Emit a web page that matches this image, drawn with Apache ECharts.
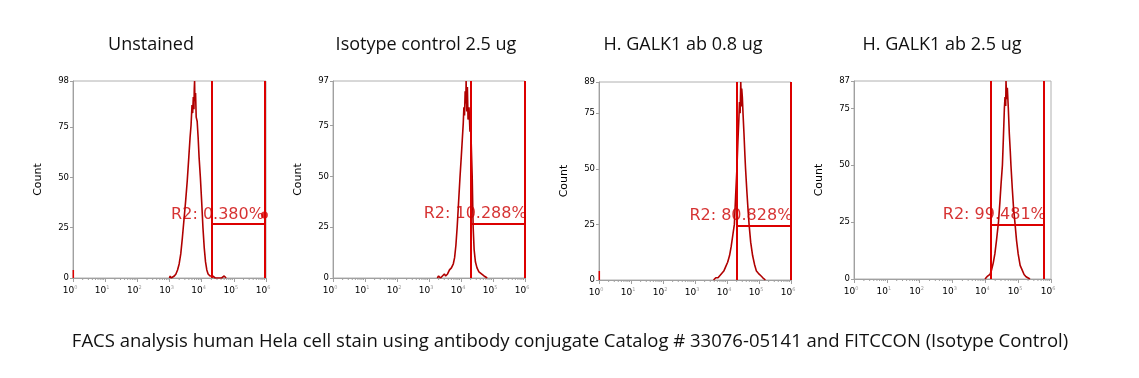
<!DOCTYPE html>
<html>
<head>
<meta charset="utf-8">
<script src="https://cdn.jsdelivr.net/npm/echarts@6/dist/echarts.min.js"></script>
<style>
  html, body { margin: 0; background: #fff; }
  #chart { width: 1139px; height: 378px; }
</style>
</head>
<body>
<div id="chart"></div>
<script>
// Títulos de cada histograma y pie de figura
const panelTitles = ['Unstained', 'Isotype control 2.5 ug', 'H. GALK1 ab 0.8 ug', 'H. GALK1 ab 2.5 ug'];
const caption = 'FACS analysis human Hela cell stain using antibody conjugate Catalog # 33076-05141 and FITCCON (Isotype Control)';

// Eje X: décadas (exponente de 10)
const decades = [0, 1, 2, 3, 4, 5, 6];
// Máximo del eje Y de cada panel
const yMax = [98, 97, 89, 87];

// Región R2 (exponentes de 10) y altura de la barra horizontal
const gateLeft = [4.30, 4.32, 4.32, 4.17];
const gateRight = [5.95, 5.99, 5.98, 5.78];
const gateLevel = [27, 26.7, 24.6, 24];
const gateLabels = ['R2: 0.380%', 'R2: 10.288%', 'R2: 80.828%', 'R2: 99.481%'];
const labelLevel = [31.3, 31.5, 28.8, 28.2];

// Eventos en el canal 0 (barra en 10^0)
const zeroChannel = [4, 0, 4, 0];

// Histogramas: log10 de la intensidad y número de eventos
const hist1Log = [3.00, 3.02, 3.05, 3.15, 3.20, 3.25, 3.30, 3.35, 3.40, 3.45, 3.50, 3.55, 3.60, 3.64, 3.67, 3.70, 3.72, 3.74, 3.76, 3.77, 3.78, 3.79, 3.81, 3.83, 3.86, 3.89, 3.92, 3.96, 4.00, 4.04, 4.08, 4.12, 4.16, 4.20, 4.26, 4.34, 4.42, 4.62, 4.70, 4.76];
const hist1Count = [0, 1, 0, 1, 2, 4, 7, 12, 20, 29, 38, 48, 60, 70, 76, 86, 82, 90, 84, 94, 98, 88, 92, 80, 78, 70, 60, 50, 38, 25, 15, 8, 4, 2, 1, 1, 0, 0, 1, 0];

const hist2Log = [3.26, 3.30, 3.36, 3.42, 3.48, 3.52, 3.58, 3.64, 3.70, 3.76, 3.80, 3.84, 3.88, 3.92, 3.97, 4.01, 4.04, 4.07, 4.09, 4.11, 4.13, 4.15, 4.16, 4.18, 4.20, 4.22, 4.25, 4.28, 4.30, 4.32, 4.35, 4.38, 4.41, 4.45, 4.50, 4.56, 4.64, 4.72, 4.82];
const hist2Count = [0, 1, 0, 1, 2, 1, 2, 4, 5, 7, 10, 16, 25, 36, 50, 60, 68, 76, 84, 80, 92, 86, 97, 82, 94, 78, 84, 72, 76, 66, 50, 25, 14, 8, 5, 3, 2, 1, 0];

const hist3Log = [3.58, 3.65, 3.72, 3.78, 3.84, 3.90, 3.96, 4.02, 4.08, 4.13, 4.18, 4.23, 4.27, 4.31, 4.34, 4.37, 4.39, 4.41, 4.43, 4.45, 4.46, 4.48, 4.50, 4.53, 4.56, 4.58, 4.62, 4.66, 4.69, 4.74, 4.80, 4.86, 4.92, 4.98, 5.05, 5.12, 5.20];
const hist3Count = [0, 1, 1, 2, 3, 4, 6, 8, 11, 15, 20, 25, 38, 50, 62, 72, 80, 75, 89, 78, 86, 82, 75, 66, 56, 50, 40, 31, 25, 17, 11, 7, 4, 3, 2, 1, 0];

const hist4Log = [3.99, 4.05, 4.10, 4.14, 4.19, 4.24, 4.29, 4.34, 4.40, 4.44, 4.48, 4.52, 4.55, 4.58, 4.60, 4.62, 4.63, 4.65, 4.67, 4.70, 4.73, 4.76, 4.78, 4.82, 4.86, 4.90, 4.95, 5.00, 5.06, 5.12, 5.18, 5.24, 5.30, 5.36];
const hist4Count = [0, 1, 1, 2, 4, 7, 11, 17, 25, 33, 42, 50, 62, 75, 80, 76, 87, 79, 84, 75, 64, 56, 50, 40, 31, 25, 17, 11, 6, 4, 2, 1, 1, 0];

const histLog = [hist1Log, hist2Log, hist3Log, hist4Log];
const histCount = [hist1Count, hist2Count, hist3Count, hist4Count];

// Posición de cada gráfico en la página
const boxes = [
    { left: 73, top: 81, width: 193, height: 197 },
    { left: 333, top: 81, width: 192, height: 197 },
    { left: 599, top: 82, width: 192, height: 198 },
    { left: 854, top: 81, width: 197, height: 198 }
];
const titleX = [146, 421, 678, 937];

const histColor = '#b00000';
const gateColor = '#dc0000';
const axisColor = '#a0a0a0';

// Marcas menores logarítmicas (2..9 de cada década)
const minorTicks = [];
for (let d = 0; d < 6; d++) {
    for (let k = 2; k <= 9; k++) minorTicks.push(d + Math.log10(k));
}

const chart = echarts.init(document.getElementById('chart'));

const grids = [], xAxes = [], yAxes = [], series = [], titles = [];

boxes.forEach((b, i) => {
    grids.push(Object.assign({ show: true, borderColor: '#b0b0b0', borderWidth: 1, backgroundColor: 'transparent' }, b));

    xAxes.push({
        type: 'value', gridIndex: i, min: 0, max: 6, interval: 1,
        axisLine: { show: true, lineStyle: { color: axisColor, width: 1 } },
        axisTick: { show: true, length: 4, lineStyle: { color: axisColor } },
        splitLine: { show: false },
        axisLabel: {
            margin: 7,
            formatter: v => '{b|10}{s|' + v + '}{p|}',
            rich: {
                b: { fontFamily: 'DejaVu Sans', fontSize: 9, color: '#000' },
                s: { fontFamily: 'DejaVu Sans', fontSize: 5, color: '#999', verticalAlign: 'top', padding: [0, 0, 7, 0] },
                p: { width: 6 }
            }
        }
    });

    yAxes.push({
        type: 'value', gridIndex: i, min: 0, max: yMax[i], interval: 25,
        name: 'Count', nameLocation: 'middle', nameGap: 29,
        nameTextStyle: { fontFamily: 'DejaVu Sans', fontSize: 11, color: '#000' },
        axisLine: { show: true, lineStyle: { color: axisColor, width: 1 } },
        axisTick: { show: true, length: 3, lineStyle: { color: axisColor } },
        splitLine: { show: false },
        axisLabel: { fontFamily: 'DejaVu Sans', fontSize: 8.5, color: '#000', margin: 4 }
    });

    titles.push({
        text: panelTitles[i], left: titleX[i], top: 31, textAlign: 'center',
        textStyle: { fontFamily: 'Open Sans', fontSize: 18, fontWeight: 'normal', color: '#111' }
    });

    // Histograma
    series.push({
        type: 'line', xAxisIndex: i, yAxisIndex: i, showSymbol: false, silent: true, z: 3,
        data: histLog[i].map((x, j) => [x, histCount[i][j]]),
        lineStyle: { color: histColor, width: 1.6 },
        markLine: {
            silent: true, symbol: 'none', label: { show: false },
            lineStyle: { color: gateColor, width: 2, type: 'solid' },
            data: [
                { xAxis: gateLeft[i] },
                { xAxis: gateRight[i] },
                [{ coord: [gateLeft[i], gateLevel[i]] }, { coord: [gateRight[i], gateLevel[i]] }]
            ]
        }
    });

    // Canal 0
    if (zeroChannel[i] > 0) {
        series.push({
            type: 'line', xAxisIndex: i, yAxisIndex: i, showSymbol: false, silent: true, z: 3,
            data: [[0.01, 0], [0.01, zeroChannel[i]]],
            lineStyle: { color: gateColor, width: 1.5 }
        });
    }

    // Etiqueta R2
    series.push({
        type: 'scatter', xAxisIndex: i, yAxisIndex: i, silent: true, z: 5,
        symbolSize: i === 0 ? 7 : 0,
        itemStyle: { color: gateColor },
        data: [[gateRight[i], labelLevel[i]]],
        label: {
            show: true, position: 'left', distance: i === 0 ? -3 : -2,
            formatter: gateLabels[i],
            fontFamily: 'DejaVu Sans', fontSize: 16, color: '#cc0000'
        }
    });

    // Marcas menores del eje logarítmico
    series.push({
        type: 'custom', xAxisIndex: i, yAxisIndex: i, silent: true, clip: false,
        data: minorTicks.map(v => [v, 0]),
        renderItem: (params, api) => {
            const p = api.coord([api.value(0), 0]);
            return {
                type: 'line',
                shape: { x1: p[0], y1: p[1], x2: p[0], y2: p[1] + 2 },
                style: { stroke: axisColor, lineWidth: 1 }
            };
        }
    });
});

titles.push({
    text: caption, left: 565, top: 327, textAlign: 'center',
    textStyle: { fontFamily: 'Open Sans', fontSize: 18.5, fontWeight: 'normal', color: '#111' }
});

chart.setOption({
    animation: false,
    backgroundColor: '#fff',
    title: titles,
    grid: grids,
    xAxis: xAxes,
    yAxis: yAxes,
    series: series
});
</script>
</body>
</html>
